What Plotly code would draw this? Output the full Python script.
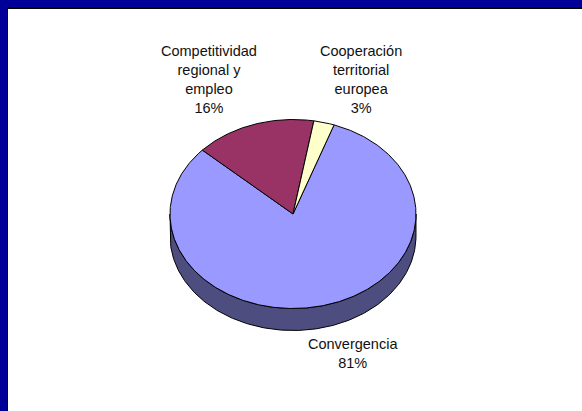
import numpy as np
import plotly.graph_objects as go

# ---- data ----
labels = ["Convergencia", "Competitividad regional y empleo", "Cooperación territorial europea"]
label_text = ["Convergencia", "Competitividad<br>regional y<br>empleo", "Cooperación<br>territorial<br>europea"]
values = [81.4, 15.9, 2.7]
colors = ["#9999FF", "#993366", "#FFFFCC"]

# ---- geometry / style (pixel space) ----
W, H = 582, 411
cx, cy, rx, ry, depth = 293, 214, 123, 94.5, 22
start_deg = 19.5
side_color = "#4D4D80"
label_pos = [(353, 353), (209, 79), (361, 79)]

def pt(theta_deg, dy=0.0):
    t = np.radians(theta_deg)
    return cx + rx * np.sin(t), cy - ry * np.cos(t) + dy

fig = go.Figure()

# side wall (visible lower half)
th = np.linspace(90, 270, 200)
xs_top, ys_top = pt(th)
xs_bot, ys_bot = pt(th[::-1], depth)
fig.add_trace(go.Scatter(
    x=np.concatenate([xs_top, xs_bot, xs_top[:1]]),
    y=np.concatenate([ys_top, ys_bot, ys_top[:1]]),
    mode="lines", fill="toself", fillcolor=side_color,
    line=dict(color="black", width=1), hoverinfo="skip", showlegend=False))

# top slices
total = sum(values)
a0 = start_deg
for lab, v, c in zip(labels, values, colors):
    span = 360 * v / total
    th = np.linspace(a0, a0 + span, max(int(span * 2), 4))
    xa, ya = pt(th)
    fig.add_trace(go.Scatter(
        x=np.concatenate([[cx], xa, [cx]]),
        y=np.concatenate([[cy], ya, [cy]]),
        mode="lines", fill="toself", fillcolor=c,
        line=dict(color="black", width=1), name=lab,
        hoverinfo="name", showlegend=False))
    a0 += span

# labels
for txt, v, (lx, ly) in zip(label_text, values, label_pos):
    fig.add_annotation(x=lx, y=ly, xref="x", yref="y",
                       text=f"{txt}<br>{round(100 * v / total)}%",
                       showarrow=False, align="center",
                       font=dict(family="Liberation Sans, Arial", size=14.5, color="#111111"))

# frame
shapes = [
    dict(type="rect", xref="x", yref="y", x0=0, x1=W, y0=0, y1=7, fillcolor="#000099", line_width=0, layer="below"),
    dict(type="rect", xref="x", yref="y", x0=0, x1=7, y0=0, y1=H, fillcolor="#000099", line_width=0, layer="below"),
    dict(type="rect", xref="x", yref="y", x0=7, x1=W, y0=7, y1=9, fillcolor="black", line_width=0, layer="below"),
    dict(type="rect", xref="x", yref="y", x0=7, x1=8, y0=7, y1=H, fillcolor="black", line_width=0, layer="below"),
]

fig.update_layout(
    width=W, height=H, margin=dict(l=0, r=0, t=0, b=0),
    paper_bgcolor="white", plot_bgcolor="white",
    xaxis=dict(range=[0, W], visible=False, fixedrange=True),
    yaxis=dict(range=[H, 0], visible=False, fixedrange=True),
    shapes=shapes,
)

fig.write_html("out.html", config={"displayModeBar": False},
               post_script="document.body.style.margin='0';document.body.style.overflow='hidden';")
